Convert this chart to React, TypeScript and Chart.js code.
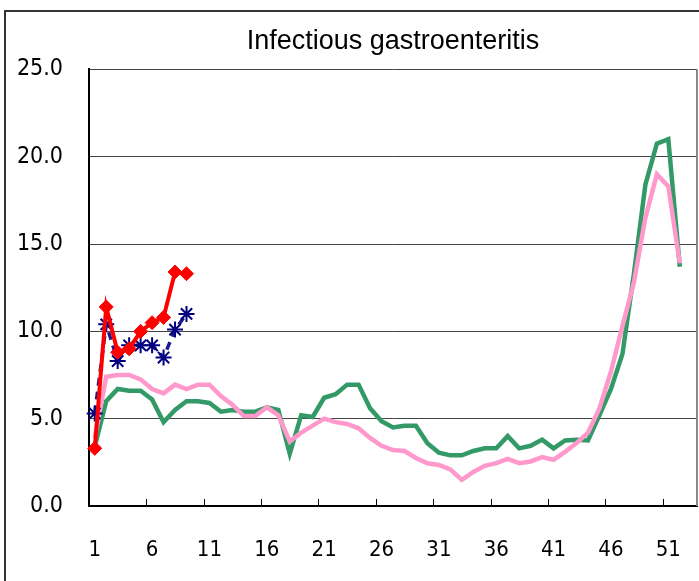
import React, { useEffect, useRef } from "react";
import { Chart, registerables } from "chart.js";

Chart.register(...registerables);

const weeks: string[] = Array.from({ length: 53 }, (_, i) => String(i + 1));

const currentYear: number[] = [3.3, 11.4, 8.8, 9.0, 10.0, 10.5, 10.8, 13.4, 13.3];
const lastYear: number[] = [5.3, 10.4, 8.3, 9.2, 9.2, 9.2, 8.5, 10.1, 11.0];
const averageRecent: number[] = [
  3.9, 7.4, 7.5, 7.5, 7.25, 6.7, 6.45, 6.95, 6.7, 6.95,
  6.95, 6.3, 5.8, 5.15, 5.15, 5.65, 5.2, 3.7, 4.2, 4.6,
  5.0, 4.8, 4.7, 4.45, 3.9, 3.45, 3.2, 3.15, 2.75, 2.45,
  2.35, 2.1, 1.5, 1.95, 2.3, 2.45, 2.7, 2.45, 2.55, 2.8,
  2.65, 3.1, 3.6, 4.2, 5.6, 7.7, 10.3, 12.8, 16.5, 19.0, 18.3, 13.9,
];
const previousSeason: number[] = [
  3.4, 6.0, 6.7, 6.6, 6.6, 6.1, 4.8, 5.5, 6.0, 6.0,
  5.9, 5.4, 5.5, 5.4, 5.4, 5.65, 5.5, 3.0, 5.2, 5.1,
  6.2, 6.4, 6.95, 6.95, 5.6, 4.85, 4.5, 4.6, 4.6, 3.6,
  3.05, 2.9, 2.9, 3.15, 3.3, 3.3, 4.0, 3.3, 3.45, 3.8,
  3.3, 3.75, 3.8, 3.75, 5.2, 6.7, 8.7, 13.3, 18.4, 20.75, 21.0, 13.7,
];
const yTicks: number[] = [0, 5, 10, 15, 20, 25];

const TITLE = "Infectious gastroenteritis";
const LABEL_FONT = "'Liberation Sans Narrow', 'DejaVu Sans Condensed', 'Liberation Sans', sans-serif";
const TITLE_FONT = "'Liberation Sans', 'DejaVu Sans', sans-serif";

const framePlugin = {
  id: "frame",
  beforeDraw(chart: any) {
    const ctx = chart.ctx;
    ctx.save();
    ctx.fillStyle = "#ffffff";
    ctx.fillRect(0, 0, chart.width, chart.height);
    ctx.strokeStyle = "#333333";
    ctx.lineWidth = 2;
    ctx.strokeRect(5, 11, 2000, 2000);
    ctx.restore();
  },
  afterDraw(chart: any) {
    const ctx = chart.ctx;
    const area = chart.chartArea;
    const xs = chart.scales.x;
    ctx.save();
    ctx.strokeStyle = "#888888";
    ctx.lineWidth = 2;
    ctx.beginPath();
    ctx.moveTo(area.right, area.top);
    ctx.lineTo(area.right, area.bottom);
    ctx.stroke();
    ctx.strokeStyle = "#000000";
    ctx.lineWidth = 1;
    const step = xs.width / weeks.length;
    for (let i = 5; i < weeks.length; i += 5) {
      const x = Math.round(xs.getPixelForValue(i) - step / 2) + 0.5;
      ctx.beginPath();
      ctx.moveTo(x, area.bottom);
      ctx.lineTo(x, area.bottom - 7);
      ctx.stroke();
    }
    ctx.restore();
  },
};

export default function App() {
  const ref = useRef<HTMLCanvasElement | null>(null);

  useEffect(() => {
    if (!ref.current) return;
    const chart = new Chart(ref.current, {
      type: "line",
      data: {
        labels: weeks,
        datasets: [
          {
            label: "current",
            data: currentYear,
            borderColor: "#ff0000",
            backgroundColor: "#ff0000",
            borderWidth: 4,
            pointStyle: "rectRot",
            pointRadius: 7,
            pointBorderWidth: 1,
            tension: 0,
          },
          {
            label: "last year",
            data: lastYear,
            borderColor: "#1a1a8c",
            backgroundColor: "#000080",
            pointBorderColor: "#000080",
            borderWidth: 3.5,
            borderDash: [8, 6],
            pointStyle: "star",
            pointRadius: 8,
            pointBorderWidth: 2,
            tension: 0,
          },
          {
            label: "average",
            data: averageRecent,
            borderColor: "#ff99cc",
            backgroundColor: "#ff99cc",
            borderWidth: 4.5,
            pointRadius: 0,
            tension: 0,
          },
          {
            label: "previous season",
            data: previousSeason,
            borderColor: "#339966",
            backgroundColor: "#339966",
            borderWidth: 4.5,
            pointRadius: 0,
            tension: 0,
          },
        ],
      },
      options: {
        responsive: false,
        animation: false,
        layout: { autoPadding: false, padding: { left: 0, right: 2, top: 0, bottom: 0 } },
        plugins: {
          legend: { display: false },
          tooltip: { enabled: false },
          title: {
            display: true,
            text: TITLE,
            fullSize: false,
            color: "#000000",
            font: { family: TITLE_FONT, size: 27, weight: "normal" },
            padding: { top: 25, bottom: 12 },
          },
        },
        scales: {
          x: {
            type: "category",
            offset: true,
            grid: { display: true, drawOnChartArea: false, drawTicks: false, offset: true },
            border: { display: true, color: "#000000", width: 2 },
            ticks: {
              autoSkip: false,
              maxRotation: 0,
              padding: 31,
              color: "#000000",
              font: { family: LABEL_FONT, size: 22 },
              callback: (_v: any, i: number) => (i % 5 === 0 ? weeks[i] : ""),
            },
            afterFit: (s: any) => {
              s.height = 75;
              s.paddingLeft = 0;
              s.paddingRight = 0;
            },
          },
          y: {
            min: yTicks[0],
            max: yTicks[yTicks.length - 1],
            afterBuildTicks: (s: any) => {
              s.ticks = yTicks.map((v) => ({ value: v }));
            },
            grid: { color: "#444444", lineWidth: 1, drawTicks: false },
            border: { display: true, color: "#000000", width: 2 },
            ticks: {
              padding: 26,
              color: "#000000",
              font: { family: LABEL_FONT, size: 23 },
              callback: (v: any) => Number(v).toFixed(1),
            },
            afterFit: (s: any) => {
              s.width = 89;
            },
          },
        },
      },
      plugins: [framePlugin],
    });
    return () => chart.destroy();
  }, []);

  return (
    <div style={{ position: "fixed", left: 0, top: 0, width: 699, height: 581, background: "#fff" }}>
      <canvas ref={ref} width={699} height={581} style={{ display: "block" }} />
    </div>
  );
}
